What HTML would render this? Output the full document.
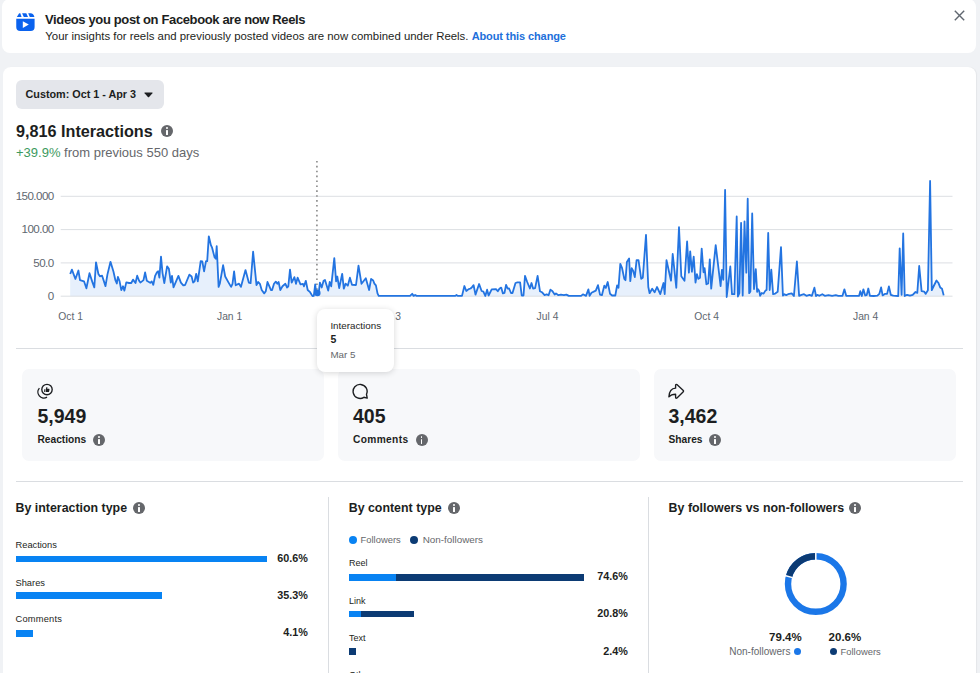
<!DOCTYPE html>
<html><head><meta charset="utf-8">
<style>
*{box-sizing:border-box;margin:0;padding:0}
html,body{width:980px;height:673px;overflow:hidden;background:#f0f2f5;font-family:"Liberation Sans",sans-serif;color:#1c1e21}
.a{position:absolute;white-space:nowrap;line-height:1}
.card{position:absolute;background:#fff;border-radius:8px}
.b{font-weight:bold}
.g{color:#65676b}
.info{position:absolute;width:12px;height:12px;border-radius:50%;background:#65676b}
.info:before{content:"";position:absolute;left:5.2px;top:2.3px;width:1.8px;height:1.8px;border-radius:50%;background:#fff}
.info:after{content:"";position:absolute;left:5.2px;top:5px;width:1.8px;height:4.8px;background:#fff;border-radius:0.5px}
.hr{position:absolute;height:1px;background:#dadde1}
.vr{position:absolute;width:1px;background:#dadde1}
.stat{position:absolute;top:368.5px;height:92px;background:#f7f8fa;border-radius:7px}
.bar{position:absolute;height:6.6px}
</style></head><body>
<!-- top notice card -->
<div class="card" style="left:2px;top:-1px;width:974px;height:54px"></div>
<svg class="a" style="left:16px;top:13px" width="19" height="19" viewBox="0 0 19 19">
  <g fill="#0a62ee">
  <path d="M0.8 3.9 L3.0 0.5 Q3.2 0.2 3.6 0.2 H4.3 L5.6 3.9 Z"/>
  <path d="M6.1 0.2 H10.3 L12.0 3.9 H7.8 Z"/>
  <path d="M12.2 0.2 H14.6 Q17.6 0.4 18.4 3.9 H13.8 Z"/>
  <path d="M0.25 5.85 H18.6 V14 Q18.6 18 14.6 18 H4.25 Q0.25 18 0.25 14 Z"/>
  </g>
  <path d="M6.8 8.2 L12.8 11.6 L6.8 14.9 Z" fill="#fff"/>
</svg>
<div class="a b" style="left:45px;top:13.1px;font-size:13px;letter-spacing:-0.36px">Videos you post on Facebook are now Reels</div>
<div class="a" style="left:45.3px;top:31.1px;font-size:11.4px">Your insights for reels and previously posted videos are now combined under Reels. <span class="b" style="color:#216fdb;font-size:11px;letter-spacing:-0.1px">About this change</span></div>
<svg class="a" style="left:954px;top:10px" width="11" height="11" viewBox="0 0 11 11"><path d="M0.8 0.8 L10.2 10.2 M10.2 0.8 L0.8 10.2" stroke="#606770" stroke-width="1.4"/></svg>

<!-- main card -->
<div class="card" style="left:2.5px;top:66.5px;width:973.5px;height:700px;box-shadow:1px 0 1px rgba(0,0,0,0.05)"></div>
<div class="a" style="left:16px;top:80px;width:148px;height:29px;background:#e4e6eb;border-radius:6px"></div>
<div class="a b" style="left:25.5px;top:88.9px;font-size:10.8px;color:#1c1e21">Custom: Oct 1 - Apr 3</div>
<svg class="a" style="left:143.5px;top:92px" width="9" height="6" viewBox="0 0 9 6"><path d="M0.8 0.5 H8.2 Q8.9 0.5 8.4 1.2 L5.1 5 Q4.5 5.6 3.9 5 L0.6 1.2 Q0.1 0.5 0.8 0.5Z" fill="#1c1e21"/></svg>

<div class="a b" style="left:16px;top:122.6px;font-size:16.2px">9,816 Interactions</div>
<div class="info" style="left:160.6px;top:125px"></div>
<div class="a" style="left:16px;top:145.7px;font-size:13px"><span style="color:#3d9a5e">+39.9%</span> <span class="g">from previous 550 days</span></div>

<!-- chart -->
<svg class="a" style="left:0;top:0" width="980" height="673">

  <path d="M70.2 274.0 L71.9 269.6 L75.4 279.0 L78.4 270.5 L80.0 280.2 L84.0 281.3 L86.4 288.3 L89.5 273.2 L92.3 281.9 L94.3 287.4 L96.0 262.3 L98.4 274.0 L99.9 276.3 L102.1 275.7 L105.5 286.1 L107.4 274.6 L110.5 261.8 L113.5 271.8 L115.4 280.2 L116.8 283.5 L117.9 276.8 L119.6 281.3 L121.3 290.2 L123.0 286.3 L124.4 290.6 L126.3 282.4 L129.1 283.0 L131.3 283.0 L133.0 279.6 L135.5 283.0 L137.2 275.7 L139.1 280.7 L140.4 282.6 L143.5 280.1 L145.1 272.5 L146.8 280.8 L150.2 282.8 L151.7 281.4 L153.3 284.8 L155.1 275.9 L157.0 272.2 L158.2 271.3 L159.4 277.7 L161.0 256.6 L162.5 272.8 L164.3 283.2 L167.1 266.4 L168.9 268.9 L170.8 282.6 L172.0 275.9 L173.5 287.3 L178.4 275.9 L180.9 282.6 L183.3 285.3 L185.1 285.0 L189.4 274.6 L191.6 276.5 L193.1 282.6 L194.6 281.4 L196.2 273.8 L197.8 281.4 L200.7 261.2 L202.3 261.5 L204.1 271.3 L206.0 261.2 L207.2 261.2 L208.8 236.3 L210.9 245.2 L212.1 247.7 L214.5 257.1 L215.8 258.7 L216.7 246.1 L218.6 286.9 L219.8 283.8 L223.1 265.2 L225.2 276.5 L228.6 282.6 L231.1 286.9 L232.5 283.8 L234.1 271.3 L235.7 285.3 L239.0 283.6 L240.9 286.9 L245.5 270.1 L248.8 282.6 L250.6 283.2 L253.1 251.7 L256.5 285.1 L258.1 282.0 L259.9 283.8 L261.7 290.0 L264.2 293.4 L265.8 291.2 L267.5 282.0 L269.4 286.3 L270.9 290.0 L272.1 290.0 L274.0 283.8 L275.8 281.6 L277.3 283.8 L278.6 282.0 L280.3 290.0 L282.5 286.3 L285.4 283.8 L287.1 287.5 L288.3 286.3 L290.0 269.7 L291.7 282.6 L294.4 277.1 L296.0 283.8 L297.6 277.7 L300.5 284.4 L303.0 283.8 L304.0 286.3 L305.8 280.8 L307.7 290.0 L310.1 292.2 L312.5 296.1 L313.8 295.8 L315.2 284.4 L316.2 293.6 L317.4 291.8 L318.7 293.0 L319.9 282.6 L321.7 287.5 L323.6 280.8 L325.0 279.9 L328.2 290.6 L329.7 282.0 L331.2 286.3 L334.3 258.1 L336.1 281.4 L337.3 276.5 L339.2 288.1 L342.2 273.8 L343.8 288.7 L345.6 283.6 L347.8 285.7 L349.9 277.7 L352.0 284.8 L356.0 285.0 L358.5 265.7 L361.5 283.8 L365.8 278.3 L369.1 290.0 L371.1 278.9 L373.2 280.5 L374.4 283.6 L375.9 285.4 L377.5 293.4 L378.7 295.9 L410.0 295.9 L412.2 293.8 L413.6 295.9 L415.1 295.0 L416.7 295.9 L455.3 295.9 L456.5 295.0 L457.7 295.9 L462.0 295.9 L464.4 286.0 L466.3 291.0 L468.7 289.1 L470.6 288.5 L471.8 287.3 L473.6 285.2 L475.5 294.6 L479.1 284.0 L481.6 291.0 L483.4 291.6 L485.3 296.0 L487.1 289.7 L488.6 295.5 L491.7 289.4 L496.0 289.1 L497.8 291.3 L499.6 288.5 L501.2 287.6 L502.9 293.4 L504.5 292.8 L506.1 284.8 L507.6 288.5 L509.1 288.5 L511.0 293.0 L512.5 293.0 L515.5 283.0 L517.4 282.4 L520.1 282.4 L521.7 295.5 L523.5 295.5 L525.0 275.9 L527.2 282.0 L529.9 288.5 L531.5 283.0 L533.1 288.5 L535.1 288.1 L537.6 275.9 L540.0 291.3 L541.9 292.2 L544.6 295.2 L546.5 294.3 L548.6 295.2 L550.4 289.7 L552.3 291.0 L554.7 294.6 L556.0 293.4 L558.4 295.2 L560.9 294.6 L563.9 295.2 L566.4 294.6 L568.8 295.9 L581.1 295.9 L582.9 294.3 L586.0 295.9 L588.4 289.4 L589.6 295.9 L591.5 292.8 L595.8 290.6 L598.0 285.2 L600.0 294.6 L601.9 295.2 L604.3 285.7 L605.8 287.9 L607.7 282.0 L610.0 293.7 L612.1 295.5 L615.3 295.5 L617.1 285.5 L618.5 287.8 L620.3 263.8 L622.1 268.2 L624.3 278.9 L625.5 280.2 L626.9 262.0 L629.1 258.4 L630.3 281.2 L631.7 268.2 L633.2 270.9 L634.8 277.1 L636.6 260.2 L638.5 260.2 L641.2 278.9 L642.8 277.7 L646.0 234.9 L648.3 287.0 L649.6 293.2 L652.2 288.7 L654.6 292.3 L657.0 287.0 L660.3 294.1 L663.5 283.0 L664.7 294.1 L666.5 260.2 L671.0 280.7 L672.7 254.0 L676.3 287.8 L679.0 227.2 L681.3 276.3 L684.5 280.7 L687.1 241.5 L688.9 272.7 L690.2 251.3 L691.9 271.8 L693.7 256.6 L695.5 282.5 L696.9 274.1 L698.4 278.9 L700.0 277.7 L701.7 248.6 L703.5 272.3 L704.6 268.2 L706.4 284.3 L708.2 283.4 L709.8 259.3 L711.2 288.7 L715.7 245.1 L720.6 286.1 L721.9 270.0 L723.3 279.8 L725.1 189.8 L726.7 297.0 L730.3 266.5 L732.0 294.1 L734.4 294.1 L736.7 216.5 L737.9 296.5 L739.4 293.2 L741.1 222.8 L742.7 295.5 L744.5 221.4 L746.3 272.7 L747.7 198.7 L749.2 293.2 L750.4 291.4 L752.2 213.5 L754.0 289.1 L755.8 269.1 L757.1 291.8 L758.1 289.3 L759.3 291.2 L760.1 295.8 L761.7 293.0 L763.6 293.6 L765.4 290.6 L766.6 290.0 L768.2 233.0 L769.7 290.0 L771.3 269.7 L773.1 294.2 L775.2 293.6 L777.7 291.8 L781.0 247.1 L782.9 295.5 L784.4 294.2 L786.2 295.1 L788.1 294.2 L791.7 293.4 L793.9 296.0 L796.9 261.5 L799.1 295.8 L801.5 294.9 L804.0 294.2 L806.4 295.8 L809.5 294.9 L811.9 295.8 L814.4 287.7 L816.0 296.0 L817.4 294.9 L819.3 295.8 L822.3 294.2 L824.8 295.8 L828.5 295.1 L832.1 295.8 L835.8 295.1 L838.3 295.8 L842.5 295.8 L844.4 289.3 L846.2 295.8 L859.1 295.8 L860.3 291.2 L861.8 296.0 L863.4 289.3 L865.2 295.5 L866.7 295.1 L868.3 288.5 L869.9 295.8 L873.7 296.0 L877.4 295.7 L879.3 293.9 L881.1 287.4 L882.6 295.4 L884.8 293.9 L887.1 293.9 L888.9 286.4 L890.8 294.8 L893.2 295.7 L898.2 296.0 L899.7 248.4 L901.6 294.8 L903.2 233.5 L904.7 296.0 L907.1 294.8 L909.9 295.7 L912.7 294.8 L915.5 292.0 L917.3 292.9 L919.2 266.0 L921.6 291.1 L924.2 291.6 L925.7 293.9 L927.9 290.2 L930.1 180.9 L931.8 290.2 L934.0 285.5 L936.5 280.5 L938.3 282.7 L940.2 287.4 L942.0 288.7 L943.7 295.4 L943.7 296.3 L70.2 296.3 Z" fill="#e7f0fc"/>
  <g stroke="#dcdfe3" stroke-width="1">
    <line x1="60.7" y1="196.3" x2="952.5" y2="196.3"/>
    <line x1="60.7" y1="229.6" x2="952.5" y2="229.6"/>
    <line x1="60.7" y1="262.9" x2="952.5" y2="262.9"/>
    <line x1="60.7" y1="296.2" x2="952.5" y2="296.2"/>
  </g>
  <line x1="316.9" y1="160.9" x2="316.9" y2="296" stroke="#959595" stroke-width="1.8" stroke-dasharray="1.6 3.3"/>
  <path d="M70.2 274.0 L71.9 269.6 L75.4 279.0 L78.4 270.5 L80.0 280.2 L84.0 281.3 L86.4 288.3 L89.5 273.2 L92.3 281.9 L94.3 287.4 L96.0 262.3 L98.4 274.0 L99.9 276.3 L102.1 275.7 L105.5 286.1 L107.4 274.6 L110.5 261.8 L113.5 271.8 L115.4 280.2 L116.8 283.5 L117.9 276.8 L119.6 281.3 L121.3 290.2 L123.0 286.3 L124.4 290.6 L126.3 282.4 L129.1 283.0 L131.3 283.0 L133.0 279.6 L135.5 283.0 L137.2 275.7 L139.1 280.7 L140.4 282.6 L143.5 280.1 L145.1 272.5 L146.8 280.8 L150.2 282.8 L151.7 281.4 L153.3 284.8 L155.1 275.9 L157.0 272.2 L158.2 271.3 L159.4 277.7 L161.0 256.6 L162.5 272.8 L164.3 283.2 L167.1 266.4 L168.9 268.9 L170.8 282.6 L172.0 275.9 L173.5 287.3 L178.4 275.9 L180.9 282.6 L183.3 285.3 L185.1 285.0 L189.4 274.6 L191.6 276.5 L193.1 282.6 L194.6 281.4 L196.2 273.8 L197.8 281.4 L200.7 261.2 L202.3 261.5 L204.1 271.3 L206.0 261.2 L207.2 261.2 L208.8 236.3 L210.9 245.2 L212.1 247.7 L214.5 257.1 L215.8 258.7 L216.7 246.1 L218.6 286.9 L219.8 283.8 L223.1 265.2 L225.2 276.5 L228.6 282.6 L231.1 286.9 L232.5 283.8 L234.1 271.3 L235.7 285.3 L239.0 283.6 L240.9 286.9 L245.5 270.1 L248.8 282.6 L250.6 283.2 L253.1 251.7 L256.5 285.1 L258.1 282.0 L259.9 283.8 L261.7 290.0 L264.2 293.4 L265.8 291.2 L267.5 282.0 L269.4 286.3 L270.9 290.0 L272.1 290.0 L274.0 283.8 L275.8 281.6 L277.3 283.8 L278.6 282.0 L280.3 290.0 L282.5 286.3 L285.4 283.8 L287.1 287.5 L288.3 286.3 L290.0 269.7 L291.7 282.6 L294.4 277.1 L296.0 283.8 L297.6 277.7 L300.5 284.4 L303.0 283.8 L304.0 286.3 L305.8 280.8 L307.7 290.0 L310.1 292.2 L312.5 296.1 L313.8 295.8 L315.2 284.4 L316.2 293.6 L317.4 291.8 L318.7 293.0 L319.9 282.6 L321.7 287.5 L323.6 280.8 L325.0 279.9 L328.2 290.6 L329.7 282.0 L331.2 286.3 L334.3 258.1 L336.1 281.4 L337.3 276.5 L339.2 288.1 L342.2 273.8 L343.8 288.7 L345.6 283.6 L347.8 285.7 L349.9 277.7 L352.0 284.8 L356.0 285.0 L358.5 265.7 L361.5 283.8 L365.8 278.3 L369.1 290.0 L371.1 278.9 L373.2 280.5 L374.4 283.6 L375.9 285.4 L377.5 293.4 L378.7 295.9 L410.0 295.9 L412.2 293.8 L413.6 295.9 L415.1 295.0 L416.7 295.9 L455.3 295.9 L456.5 295.0 L457.7 295.9 L462.0 295.9 L464.4 286.0 L466.3 291.0 L468.7 289.1 L470.6 288.5 L471.8 287.3 L473.6 285.2 L475.5 294.6 L479.1 284.0 L481.6 291.0 L483.4 291.6 L485.3 296.0 L487.1 289.7 L488.6 295.5 L491.7 289.4 L496.0 289.1 L497.8 291.3 L499.6 288.5 L501.2 287.6 L502.9 293.4 L504.5 292.8 L506.1 284.8 L507.6 288.5 L509.1 288.5 L511.0 293.0 L512.5 293.0 L515.5 283.0 L517.4 282.4 L520.1 282.4 L521.7 295.5 L523.5 295.5 L525.0 275.9 L527.2 282.0 L529.9 288.5 L531.5 283.0 L533.1 288.5 L535.1 288.1 L537.6 275.9 L540.0 291.3 L541.9 292.2 L544.6 295.2 L546.5 294.3 L548.6 295.2 L550.4 289.7 L552.3 291.0 L554.7 294.6 L556.0 293.4 L558.4 295.2 L560.9 294.6 L563.9 295.2 L566.4 294.6 L568.8 295.9 L581.1 295.9 L582.9 294.3 L586.0 295.9 L588.4 289.4 L589.6 295.9 L591.5 292.8 L595.8 290.6 L598.0 285.2 L600.0 294.6 L601.9 295.2 L604.3 285.7 L605.8 287.9 L607.7 282.0 L610.0 293.7 L612.1 295.5 L615.3 295.5 L617.1 285.5 L618.5 287.8 L620.3 263.8 L622.1 268.2 L624.3 278.9 L625.5 280.2 L626.9 262.0 L629.1 258.4 L630.3 281.2 L631.7 268.2 L633.2 270.9 L634.8 277.1 L636.6 260.2 L638.5 260.2 L641.2 278.9 L642.8 277.7 L646.0 234.9 L648.3 287.0 L649.6 293.2 L652.2 288.7 L654.6 292.3 L657.0 287.0 L660.3 294.1 L663.5 283.0 L664.7 294.1 L666.5 260.2 L671.0 280.7 L672.7 254.0 L676.3 287.8 L679.0 227.2 L681.3 276.3 L684.5 280.7 L687.1 241.5 L688.9 272.7 L690.2 251.3 L691.9 271.8 L693.7 256.6 L695.5 282.5 L696.9 274.1 L698.4 278.9 L700.0 277.7 L701.7 248.6 L703.5 272.3 L704.6 268.2 L706.4 284.3 L708.2 283.4 L709.8 259.3 L711.2 288.7 L715.7 245.1 L720.6 286.1 L721.9 270.0 L723.3 279.8 L725.1 189.8 L726.7 297.0 L730.3 266.5 L732.0 294.1 L734.4 294.1 L736.7 216.5 L737.9 296.5 L739.4 293.2 L741.1 222.8 L742.7 295.5 L744.5 221.4 L746.3 272.7 L747.7 198.7 L749.2 293.2 L750.4 291.4 L752.2 213.5 L754.0 289.1 L755.8 269.1 L757.1 291.8 L758.1 289.3 L759.3 291.2 L760.1 295.8 L761.7 293.0 L763.6 293.6 L765.4 290.6 L766.6 290.0 L768.2 233.0 L769.7 290.0 L771.3 269.7 L773.1 294.2 L775.2 293.6 L777.7 291.8 L781.0 247.1 L782.9 295.5 L784.4 294.2 L786.2 295.1 L788.1 294.2 L791.7 293.4 L793.9 296.0 L796.9 261.5 L799.1 295.8 L801.5 294.9 L804.0 294.2 L806.4 295.8 L809.5 294.9 L811.9 295.8 L814.4 287.7 L816.0 296.0 L817.4 294.9 L819.3 295.8 L822.3 294.2 L824.8 295.8 L828.5 295.1 L832.1 295.8 L835.8 295.1 L838.3 295.8 L842.5 295.8 L844.4 289.3 L846.2 295.8 L859.1 295.8 L860.3 291.2 L861.8 296.0 L863.4 289.3 L865.2 295.5 L866.7 295.1 L868.3 288.5 L869.9 295.8 L873.7 296.0 L877.4 295.7 L879.3 293.9 L881.1 287.4 L882.6 295.4 L884.8 293.9 L887.1 293.9 L888.9 286.4 L890.8 294.8 L893.2 295.7 L898.2 296.0 L899.7 248.4 L901.6 294.8 L903.2 233.5 L904.7 296.0 L907.1 294.8 L909.9 295.7 L912.7 294.8 L915.5 292.0 L917.3 292.9 L919.2 266.0 L921.6 291.1 L924.2 291.6 L925.7 293.9 L927.9 290.2 L930.1 180.9 L931.8 290.2 L934.0 285.5 L936.5 280.5 L938.3 282.7 L940.2 287.4 L942.0 288.7 L943.7 295.4" fill="none" stroke="#2374e1" stroke-width="1.8" stroke-linejoin="round"/>
  <circle cx="317.4" cy="293" r="3.2" fill="#2374e1"/>
  <g font-family="Liberation Sans" font-size="11.6" fill="#606770" text-anchor="end" letter-spacing="-0.55">
    <text x="53.7" y="199.8">150.000</text>
    <text x="53.7" y="233.1">100.00</text>
    <text x="53.7" y="266.9">50.0</text>
    <text x="53.7" y="300.2">0</text>
  </g>
  <g font-family="Liberation Sans" font-size="10.3" fill="#606770" text-anchor="middle">
    <text x="70.6" y="320.1">Oct 1</text>
    <text x="229.6" y="320.1">Jan 1</text>
    <text x="388.6" y="320.1">Apr 3</text>
    <text x="547.5" y="320.1">Jul 4</text>
    <text x="706.6" y="320.1">Oct 4</text>
    <text x="865.6" y="320.1">Jan 4</text>
  </g>
</svg>
<div class="hr" style="left:16px;top:348px;width:946.5px"></div>

<!-- tooltip -->
<div class="a" style="z-index:5;left:317px;top:309px;width:77px;height:62.5px;background:#fff;border-radius:8px;box-shadow:0 1px 6px rgba(0,0,0,0.16)"></div>
<div class="a" style="z-index:6;left:330.4px;top:320.5px;font-size:9.8px">Interactions</div>
<div class="a b" style="z-index:6;left:330.4px;top:334px;font-size:10.5px">5</div>
<div class="a g" style="z-index:6;left:330.4px;top:350px;font-size:9.8px">Mar 5</div>

<!-- stat cards -->
<div class="stat" style="left:22px;width:302px"></div>
<div class="stat" style="left:337.5px;width:302.5px"></div>
<div class="stat" style="left:653.5px;width:302.5px"></div>

<div class="a b" style="left:37.5px;top:407.3px;font-size:19.5px">5,949</div>
<div class="a b" style="left:37.5px;top:435px;font-size:10.2px">Reactions</div>
<div class="info" style="left:93.2px;top:433.8px"></div>

<div class="a b" style="left:353px;top:407.3px;font-size:19.5px">405</div>
<div class="a b" style="left:353px;top:435px;font-size:10.2px;letter-spacing:0.35px">Comments</div>
<div class="info" style="left:415.5px;top:433.8px"></div>

<div class="a b" style="left:668.5px;top:407.3px;font-size:19.5px">3,462</div>
<div class="a b" style="left:668.5px;top:435px;font-size:10.2px">Shares</div>
<div class="info" style="left:709px;top:433.8px"></div>

<div class="hr" style="left:16px;top:481px;width:946.5px"></div>
<div class="vr" style="left:328px;top:497px;height:200px"></div>
<div class="vr" style="left:648.3px;top:497px;height:200px"></div>

<!-- stat icons -->
<svg class="a" style="left:36px;top:382px" width="17" height="17" viewBox="0 0 17 17">
  <g fill="none" stroke="#1c1e21" stroke-width="1.35">
    <circle cx="11" cy="7.5" r="5.2"/>
    <path d="M3.4 6.1 A6 6 0 0 0 11 15.2"/>
  </g>
  <g fill="#1c1e21">
    <rect x="8.2" y="7.3" width="1" height="2.7"/>
    <path d="M9.7 7.2 L10.6 5.0 Q11.4 4.6 11.4 5.6 L11.2 6.8 H13 Q13.6 6.9 13.5 7.5 L13.1 9.5 Q13 10 12.4 10 H9.7 Z"/>
  </g>
</svg>
<svg class="a" style="left:352px;top:383px" width="17" height="17" viewBox="0 0 17 17">
  <path d="M14.5 11.3 A7 7 0 1 0 11.9 14.3 L15.2 15.1 Z" fill="none" stroke="#1c1e21" stroke-width="1.4" stroke-linejoin="round"/>
</svg>
<svg class="a" style="left:668px;top:383px" width="17" height="17" viewBox="0 0 17 17">
  <path d="M7.6 5.2 L7.6 2.5 Q7.6 1.0 8.9 1.6 L15.3 7.6 Q15.9 8.2 15.3 8.8 L9 15 Q7.6 15.8 7.6 14.2 L7.6 11.2 C4.5 11.2 2.5 12 0.9 13.9 C1.2 8.5 3.8 5.4 7.6 5.2 Z" fill="none" stroke="#1c1e21" stroke-width="1.35" stroke-linejoin="round"/>
</svg>

<!-- col 1 -->
<div class="a b" style="left:15.5px;top:502px;font-size:12.4px">By interaction type</div>
<div class="info" style="left:133.3px;top:502px"></div>
<div class="a" style="left:15.5px;top:540.6px;font-size:9.3px">Reactions</div>
<div class="bar" style="left:15.6px;top:555.6px;width:251.5px;background:#0883f3"></div>
<div class="a b" style="right:672.2px;top:553px;font-size:10.8px">60.6%</div>
<div class="a" style="left:15.5px;top:578.5px;font-size:9.3px">Shares</div>
<div class="bar" style="left:15.6px;top:592.4px;width:146.4px;background:#0883f3"></div>
<div class="a b" style="right:672.2px;top:589.7px;font-size:10.8px">35.3%</div>
<div class="a" style="left:15.5px;top:615.1px;font-size:9.3px;letter-spacing:0.2px">Comments</div>
<div class="bar" style="left:15.6px;top:630.2px;width:17.7px;background:#0883f3"></div>
<div class="a b" style="right:672.2px;top:626.8px;font-size:10.8px">4.1%</div>

<!-- col 2 -->
<div class="a b" style="left:348.7px;top:502px;font-size:12.4px">By content type</div>
<div class="info" style="left:447.8px;top:502px"></div>
<div class="a" style="left:348.9px;top:535.5px;width:8px;height:8px;border-radius:50%;background:#0883f3"></div>
<div class="a g" style="left:360.6px;top:535.4px;font-size:9.4px">Followers</div>
<div class="a" style="left:410.4px;top:535.5px;width:8px;height:8px;border-radius:50%;background:#0c3b74"></div>
<div class="a g" style="left:422.7px;top:535.4px;font-size:9.9px">Non-followers</div>
<div class="a" style="left:348.9px;top:558.7px;font-size:9px">Reel</div>
<div class="bar" style="left:348.9px;top:574.1px;width:234.8px;background:#0c3b74"></div>
<div class="bar" style="left:348.9px;top:574.1px;width:47px;background:#0883f3"></div>
<div class="a b" style="right:352.2px;top:571.2px;font-size:10.8px">74.6%</div>
<div class="a" style="left:348.9px;top:597.1px;font-size:9px">Link</div>
<div class="bar" style="left:348.9px;top:610.9px;width:64.8px;background:#0c3b74"></div>
<div class="bar" style="left:348.9px;top:610.9px;width:12.1px;background:#0883f3"></div>
<div class="a b" style="right:352.2px;top:608.3px;font-size:10.8px">20.8%</div>
<div class="a" style="left:348.9px;top:633.8px;font-size:9px">Text</div>
<div class="bar" style="left:348.9px;top:648.3px;width:7.2px;background:#0c3b74"></div>
<div class="a b" style="right:352.2px;top:646.2px;font-size:10.8px">2.4%</div>
<div class="a" style="left:348.9px;top:670.5px;font-size:9px">Other</div>

<!-- col 3 -->
<div class="a b" style="left:668.6px;top:502px;font-size:12.4px">By followers vs non-followers</div>
<div class="info" style="left:849.3px;top:502px"></div>
<svg class="a" style="left:780px;top:548px" width="72" height="72" viewBox="0 0 72 72">
  <circle cx="35.8" cy="36" r="27.8" fill="none" stroke="#1b77e8" stroke-width="6.4"/>
  <path d="M35.8 8.2 A27.8 27.8 0 0 0 9.0 28.6" fill="none" stroke="#0c3b74" stroke-width="6.4"/>
  <g stroke="#fff" stroke-width="1.5">
    <line x1="35.8" y1="4" x2="35.8" y2="12"/>
    <line x1="4.9" y1="27.5" x2="12.6" y2="29.6"/>
  </g>
</svg>
<div class="a b" style="right:178.3px;top:632.3px;font-size:11.5px">79.4%</div>
<div class="a b" style="left:828.6px;top:632.3px;font-size:11.5px">20.6%</div>
<div class="a g" style="right:189.6px;top:647.2px;font-size:10px">Non-followers</div>
<div class="a" style="left:794.4px;top:647.9px;width:7px;height:7px;border-radius:50%;background:#1b77e8"></div>
<div class="a" style="left:830.3px;top:647.9px;width:7px;height:7px;border-radius:50%;background:#0c3b74"></div>
<div class="a g" style="left:840.6px;top:647.2px;font-size:9.4px">Followers</div>

</body></html>
